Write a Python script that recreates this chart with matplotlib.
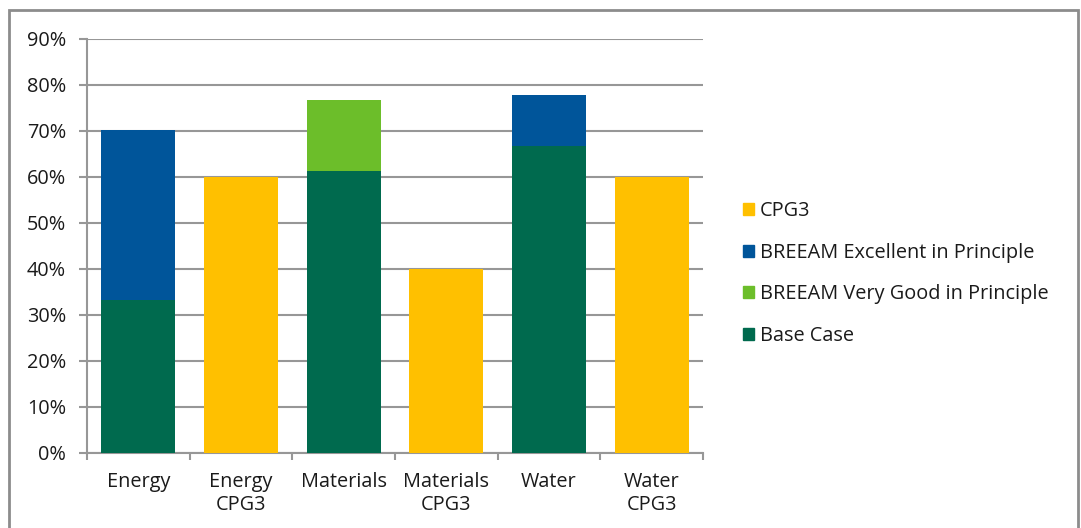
import matplotlib
matplotlib.use("Agg")
import matplotlib.pyplot as plt
from matplotlib.patches import Rectangle, Patch
from matplotlib.ticker import PercentFormatter

categories = ["Energy", "Energy\nCPG3", "Materials", "Materials\nCPG3", "Water", "Water\nCPG3"]
base_case = [33.3, 0, 61.3, 0, 66.7, 0]
very_good = [0, 0, 15.5, 0, 0, 0]
excellent = [37.0, 0, 0, 0, 11.1, 0]
cpg3 = [0, 60, 0, 40, 0, 60]

c_base = "#006A4E"
c_vgood = "#6CBE2A"
c_exc = "#00559A"
c_cpg3 = "#FFC000"
grid_c = "#979797"
txt_c = "#1a1a1a"
fs = 14.3

plt.rcParams["font.family"] = ["Open Sans", "DejaVu Sans"]

fig = plt.figure(figsize=(10.81, 5.28), dpi=100)
ax = fig.add_axes([87 / 1081, 1 - 453 / 528, (703 - 87) / 1081, (453 - 39) / 528])

x = list(range(len(categories)))
w = 0.72
ax.bar(x, base_case, w, color=c_base, zorder=3)
bottom2 = [b + v for b, v in zip(base_case, very_good)]
ax.bar(x, very_good, w, bottom=base_case, color=c_vgood, zorder=3)
ax.bar(x, excellent, w, bottom=bottom2, color=c_exc, zorder=3)
ax.bar(x, cpg3, w, color=c_cpg3, zorder=3)

ax.set_xlim(-0.5, len(categories) - 0.5)
ax.set_ylim(0, 90)
ax.set_yticks(range(0, 91, 10))
ax.yaxis.set_major_formatter(PercentFormatter(decimals=0))
ax.set_xticks([i - 0.5 for i in range(len(categories) + 1)])
ax.set_xticklabels([])
ax.set_xticks(x, minor=True)
ax.set_xticklabels(categories, minor=True, fontsize=fs, color=txt_c, linespacing=1.18)
ax.tick_params(axis="x", which="minor", length=0, pad=14)
ax.tick_params(axis="x", which="major", length=5, color=grid_c, width=1.5)
ax.tick_params(axis="y", length=6, color=grid_c, width=1.5, labelsize=fs, labelcolor=txt_c, pad=9)

ax.grid(axis="y", color=grid_c, linewidth=1.5, zorder=0)
for s in ["top", "right"]:
    ax.spines[s].set_visible(False)
for s in ["left", "bottom"]:
    ax.spines[s].set_color(grid_c)
    ax.spines[s].set_linewidth(1.5)

handles = [Patch(color=c_cpg3, label="CPG3"),
           Patch(color=c_exc, label="BREEAM Excellent in Principle"),
           Patch(color=c_vgood, label="BREEAM Very Good in Principle"),
           Patch(color=c_base, label="Base Case")]
fig.legend(handles=handles, loc="center left", bbox_to_anchor=(743 / 1081, 1 - 273.5 / 528),
           frameon=False, fontsize=fs, handlelength=0.55, handleheight=0.55,
           handletextpad=0.3, labelspacing=1.08, borderaxespad=0, borderpad=0,
           labelcolor=txt_c)

fig.patches.append(Rectangle((9 / 1081, -0.05), (1078 - 9) / 1081, 1.05 - 10 / 528,
                             transform=fig.transFigure, fill=False,
                             edgecolor="#8c8c8c", linewidth=2))

fig.savefig("out.png", dpi=100)
